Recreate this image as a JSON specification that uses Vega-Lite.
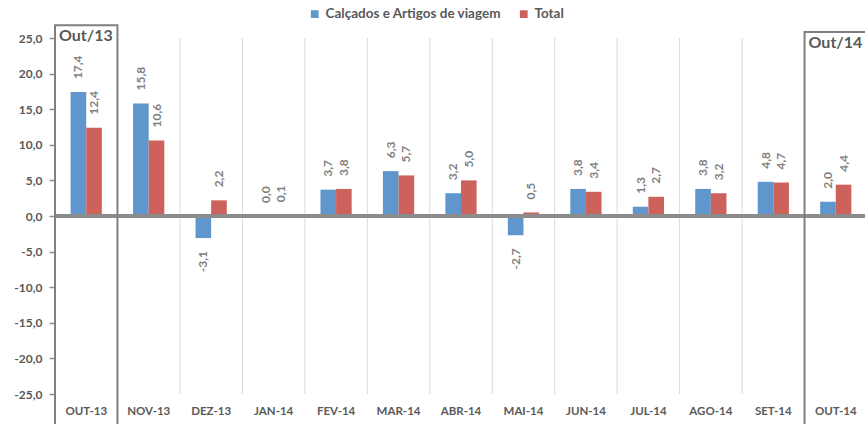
{
  "$schema": "https://vega.github.io/schema/vega-lite/v6.json",
  "width": 812,
  "height": 356,
  "autosize": {"type": "none"},
  "padding": {"left": 55, "top": 38, "right": 0, "bottom": 30},
  "config": {
    "locale": {"number": {"decimal": ",", "thousands": ".", "grouping": [3], "currency": ["", " €"], "minus": "-"}},
    "view": {"stroke": null},
    "font": "Lato",
    "axisY": {"labelOverlap": false}
  },
  "datasets": {
    "bars": [
      {"mes": "OUT-13", "serie": "Calçados e Artigos de viagem", "valor": 17.4},
      {"mes": "OUT-13", "serie": "Total", "valor": 12.4},
      {"mes": "NOV-13", "serie": "Calçados e Artigos de viagem", "valor": 15.8},
      {"mes": "NOV-13", "serie": "Total", "valor": 10.6},
      {"mes": "DEZ-13", "serie": "Calçados e Artigos de viagem", "valor": -3.1},
      {"mes": "DEZ-13", "serie": "Total", "valor": 2.2},
      {"mes": "JAN-14", "serie": "Calçados e Artigos de viagem", "valor": 0.0},
      {"mes": "JAN-14", "serie": "Total", "valor": 0.1},
      {"mes": "FEV-14", "serie": "Calçados e Artigos de viagem", "valor": 3.7},
      {"mes": "FEV-14", "serie": "Total", "valor": 3.8},
      {"mes": "MAR-14", "serie": "Calçados e Artigos de viagem", "valor": 6.3},
      {"mes": "MAR-14", "serie": "Total", "valor": 5.7},
      {"mes": "ABR-14", "serie": "Calçados e Artigos de viagem", "valor": 3.2},
      {"mes": "ABR-14", "serie": "Total", "valor": 5.0},
      {"mes": "MAI-14", "serie": "Calçados e Artigos de viagem", "valor": -2.7},
      {"mes": "MAI-14", "serie": "Total", "valor": 0.5},
      {"mes": "JUN-14", "serie": "Calçados e Artigos de viagem", "valor": 3.8},
      {"mes": "JUN-14", "serie": "Total", "valor": 3.4},
      {"mes": "JUL-14", "serie": "Calçados e Artigos de viagem", "valor": 1.3},
      {"mes": "JUL-14", "serie": "Total", "valor": 2.7},
      {"mes": "AGO-14", "serie": "Calçados e Artigos de viagem", "valor": 3.8},
      {"mes": "AGO-14", "serie": "Total", "valor": 3.2},
      {"mes": "SET-14", "serie": "Calçados e Artigos de viagem", "valor": 4.8},
      {"mes": "SET-14", "serie": "Total", "valor": 4.7},
      {"mes": "OUT-14", "serie": "Calçados e Artigos de viagem", "valor": 2.0},
      {"mes": "OUT-14", "serie": "Total", "valor": 4.4}
    ],
    "grid": [
      {"mes": "NOV-13"}, {"mes": "DEZ-13"}, {"mes": "JAN-14"}, {"mes": "FEV-14"},
      {"mes": "MAR-14"}, {"mes": "ABR-14"}, {"mes": "MAI-14"}, {"mes": "JUN-14"},
      {"mes": "JUL-14"}, {"mes": "AGO-14"}, {"mes": "SET-14"}
    ],
    "boxes": [
      {"mes": "OUT-13", "topo": 26.8, "base": -33, "rotulo": "Out/13"},
      {"mes": "OUT-14", "topo": 25.85, "base": -33, "rotulo": "Out/14"}
    ]
  },
  "layer": [
    {
      "data": {"name": "bars"},
      "mark": {"type": "bar"},
      "encoding": {
        "x": {
          "field": "mes", "type": "nominal", "sort": null,
          "scale": {
            "domain": ["OUT-13", "NOV-13", "DEZ-13", "JAN-14", "FEV-14", "MAR-14", "ABR-14", "MAI-14", "JUN-14", "JUL-14", "AGO-14", "SET-14", "OUT-14"],
            "paddingInner": 0, "paddingOuter": 0
          },
          "axis": {
            "title": null, "orient": "bottom", "domain": false, "ticks": false, "grid": false, "bandPosition": 0.5,
            "labelAngle": 0, "labelPadding": 11, "labelFontSize": 11.5, "labelFontWeight": "bold",
            "labelColor": "#595959", "labelBaseline": "top", "labelAlign": "center"
          }
        },
        "xOffset": {
          "field": "serie", "type": "nominal",
          "scale": {"domain": ["Calçados e Artigos de viagem", "Total"], "paddingInner": 0, "paddingOuter": 1}
        },
        "y": {
          "field": "valor", "type": "quantitative",
          "scale": {"domain": [-25, 25], "nice": false, "zero": false},
          "axis": {
            "title": null, "grid": false, "domain": false, "values": [-25, -20, -15, -10, -5, 0, 5, 10, 15, 20, 25],
            "tickCount": 20,
            "format": ".1f", "tickSize": 6, "tickColor": "#8C8C8C", "tickWidth": 1.5, "labelPadding": 7, "labelOverlap": false,
            "labelFontSize": 12, "labelFontWeight": "bold", "labelColor": "#595959"
          }
        },
        "color": {
          "field": "serie", "type": "nominal",
          "scale": {"domain": ["Calçados e Artigos de viagem", "Total"], "range": ["#5F96CB", "#CD625D"]},
          "legend": {
            "title": null, "orient": "none", "direction": "horizontal", "legendX": 253, "legendY": -31,
            "symbolType": "square", "symbolSize": 60, "symbolStrokeWidth": 0, "labelFontSize": 13.5,
            "labelFontWeight": "bold", "labelColor": "#595959", "columnPadding": 15, "labelOffset": 4,
            "labelLimit": 300
          }
        }
      }
    },
    {
      "data": {"name": "grid"},
      "mark": {"type": "rule", "color": "#D9D9D9", "strokeWidth": 1},
      "encoding": {
        "x": {"field": "mes", "type": "nominal", "bandPosition": 0},
        "y": {"datum": 25, "type": "quantitative"},
        "y2": {"datum": -25}
      }
    },
    {
      "data": {"name": "bars"},
      "mark": {"type": "rule", "color": "#8C8C8C", "strokeWidth": 3},
      "encoding": {
        "y": {"datum": 0, "type": "quantitative"}
      }
    },
    {
      "data": {"name": "bars"},
      "transform": [{"filter": "datum.valor >= 0"}],
      "mark": {"type": "text", "angle": 270, "align": "left", "baseline": "middle", "dx": 13, "fontSize": 12, "fontWeight": "bold", "color": "#7F7F7F"},
      "encoding": {
        "x": {"field": "mes", "type": "nominal"},
        "xOffset": {"field": "serie", "type": "nominal"},
        "y": {"field": "valor", "type": "quantitative"},
        "text": {"field": "valor", "type": "quantitative", "format": ".1f"}
      }
    },
    {
      "data": {"name": "bars"},
      "transform": [{"filter": "datum.valor < 0"}],
      "mark": {"type": "text", "angle": 270, "align": "right", "baseline": "middle", "dx": -13, "fontSize": 12, "fontWeight": "bold", "color": "#7F7F7F"},
      "encoding": {
        "x": {"field": "mes", "type": "nominal"},
        "xOffset": {"field": "serie", "type": "nominal"},
        "y": {"field": "valor", "type": "quantitative"},
        "text": {"field": "valor", "type": "quantitative", "format": ".1f"}
      }
    },
    {
      "data": {"name": "boxes"},
      "mark": {"type": "rect", "fill": null, "fillOpacity": 0, "stroke": "#7F7F7F", "strokeWidth": 2},
      "encoding": {
        "x": {"field": "mes", "type": "nominal"},
        "y": {"field": "topo", "type": "quantitative"},
        "y2": {"field": "base"}
      }
    },
    {
      "data": {"name": "boxes"},
      "mark": {"type": "text", "align": "left", "baseline": "top", "dx": 4, "dy": 3, "fontSize": 16, "fontWeight": "bold", "color": "#595959"},
      "encoding": {
        "x": {"field": "mes", "type": "nominal", "bandPosition": 0},
        "y": {"field": "topo", "type": "quantitative"},
        "text": {"field": "rotulo"}
      }
    }
  ]
}
